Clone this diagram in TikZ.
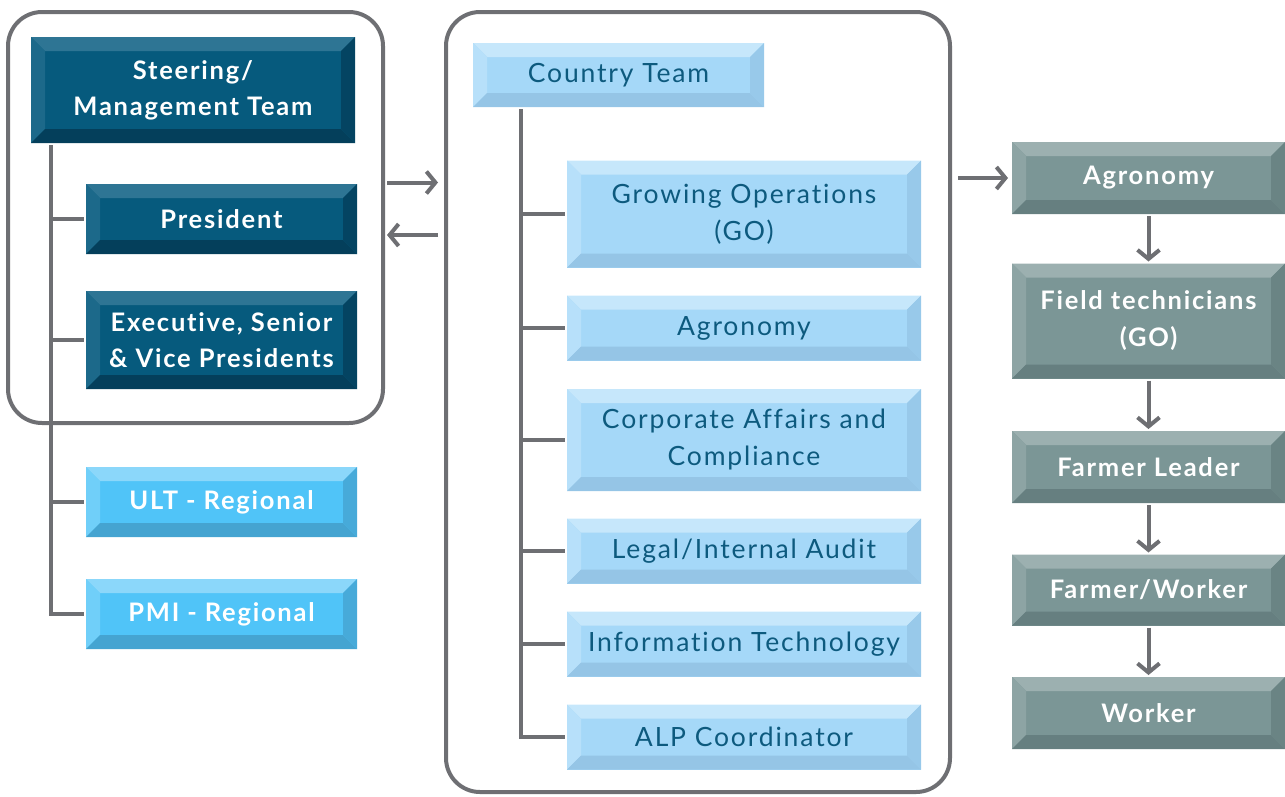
\documentclass[tikz,border=0pt]{standalone}
\usepackage{fontspec}
\setmainfont{Lato}[LetterSpace=7, Ligatures=NoCommon]
\usetikzlibrary{arrows.meta}

\definecolor{linegray}{HTML}{6E6F73}
\definecolor{dbase}{HTML}{065A7D}
\definecolor{dtop}{HTML}{2E7594}
\definecolor{ddark}{HTML}{043F5B}
\definecolor{cbase}{HTML}{A5D8F8}
\definecolor{ctop}{HTML}{C6E7FB}
\definecolor{cdark}{HTML}{95C5E6}
\definecolor{ubase}{HTML}{50C4F8}
\definecolor{utop}{HTML}{8BD7FA}
\definecolor{udark}{HTML}{45A4D1}
\definecolor{gbase}{HTML}{7B9696}
\definecolor{gtop}{HTML}{9CB0B0}
\definecolor{gdark}{HTML}{667F80}
\definecolor{navytext}{HTML}{0D5A7E}

\begin{document}
\begin{tikzpicture}[x=1pt, y=-1pt,
  line width=4pt,
  frame/.style={draw=linegray, rounded corners=34pt, line width=4pt, inner sep=0pt},
  bevel/.style n args={3}{fill=#1, inner sep=0pt, align=center,
    path picture={
      % top and left edges lit, bottom and right edges in shade
      \fill[#2] (path picture bounding box.north west) -- (path picture bounding box.north east)
        -- ++(-14pt,-14pt) -- ([shift={(14pt,-14pt)}]path picture bounding box.north west) -- cycle;
      \fill[#2!55!#1] (path picture bounding box.north west) -- ++(14pt,-14pt)
        -- ([shift={(14pt,14pt)}]path picture bounding box.south west) -- (path picture bounding box.south west) -- cycle;
      \fill[#3] (path picture bounding box.south west) -- ++(14pt,14pt)
        -- ([shift={(-14pt,14pt)}]path picture bounding box.south east) -- (path picture bounding box.south east) -- cycle;
      \fill[#3!80!#1] (path picture bounding box.south east) -- ++(-14pt,14pt)
        -- ([shift={(-14pt,-14pt)}]path picture bounding box.north east) -- (path picture bounding box.north east) -- cycle;
    }},
  darkbox/.style={bevel={dbase}{dtop}{ddark}, text=white, font=\bfseries\fontsize{25.5}{36}\selectfont},
  regbox/.style={bevel={ubase}{utop}{udark}, text=white, font=\bfseries\fontsize{25.5}{36}\selectfont,
    minimum width=271pt, minimum height=70pt},
  teambox/.style={bevel={cbase}{ctop}{cdark}, text=navytext, font=\fontsize{26.5}{37}\selectfont},
  unitbox/.style={teambox, minimum width=354pt},
  fieldbox/.style={bevel={gbase}{gtop}{gdark}, text=white, font=\bfseries\fontsize{25.5}{37}\selectfont,
    minimum width=273pt},
  trunk/.style={draw=linegray, line width=4.5pt},
  arr/.style={draw=linegray, line width=4pt, -{Straight Barb[length=9pt, width=22pt]}}
]
\useasboundingbox (0,0) rectangle (1285,796);

% frames
\node[frame, minimum width=375pt, minimum height=411pt] (lframe) at (195.5,217.5) {};
\node[frame, minimum width=504pt, minimum height=780pt] (mframe) at (698,402) {};

% management side
\node[darkbox, minimum width=324pt, minimum height=106pt] (steer) at (193,90) {Steering/\\Management Team};
\node[darkbox, minimum width=271pt, minimum height=70pt] (pres) at (221.5,219) {President};
\node[darkbox, minimum width=271pt, minimum height=98pt] (exec) at (221.5,340) {Executive, Senior\\\& Vice Presidents};
\node[regbox] (ult) at (221.5,502) {ULT - Regional};
\node[regbox] (pmi) at (221.5,614) {PMI - Regional};

\coordinate (ltrunk) at ([xshift=22pt]steer.south west);
\draw[trunk] (ltrunk) |- (pmi.west);
\foreach \n in {pres, exec, ult}
  \draw[trunk] (ltrunk |- \n.west) -- (\n.west);

% country team
\node[teambox, minimum width=291pt, minimum height=64pt] (country) at (618.5,75) {Country Team};
\node[unitbox, minimum height=107pt] (grow) at (744,214) {Growing Operations\\(GO)};
\node[unitbox, minimum height=65pt] (agro) at (744,328) {Agronomy};
\node[unitbox, minimum height=102pt] (corp) at (744,440) {Corporate Affairs and\\Compliance};
\node[unitbox, minimum height=65pt] (legal) at (744,551) {Legal/Internal Audit};
\node[unitbox, minimum height=65pt] (infotech) at (744,644) {Information Technology};
\node[unitbox, minimum height=65pt] (alp) at (744,737) {ALP Coordinator};

\coordinate (mtrunk) at ([xshift=50pt]country.south west);
\draw[trunk] (mtrunk) |- (alp.west);
\foreach \n in {grow, agro, corp, legal, infotech}
  \draw[trunk] (mtrunk |- \n.west) -- (\n.west);

% field side
\node[fieldbox, minimum height=72pt] (fagro) at (1148.5,178) {Agronomy};
\node[fieldbox, minimum height=115pt] (tech) at (1148.5,321) {Field technicians\\(GO)};
\node[fieldbox, minimum height=72pt] (leader) at (1148.5,467) {Farmer Leader};
\node[fieldbox, minimum height=71pt] (fworker) at (1148.5,590) {Farmer/Worker};
\node[fieldbox, minimum height=72pt] (worker) at (1148.5,713) {Worker};

% links between the groups
\draw[arr, shorten <=2pt, shorten >=6pt] ([yshift=35pt]lframe.east) -- ([yshift=35pt]lframe.east -| mframe.west);
\draw[arr, shorten <=6pt, shorten >=2pt] ([yshift=-17.5pt]lframe.east -| mframe.west) -- ([yshift=-17.5pt]lframe.east);
\draw[arr, shorten <=6pt, shorten >=2pt] (mframe.east |- fagro.west) -- (fagro.west);
\draw[arr] (fagro) -- (tech);
\draw[arr] (tech) -- (leader);
\draw[arr] (leader) -- (fworker);
\draw[arr] (fworker) -- (worker);

\end{tikzpicture}
\end{document}
